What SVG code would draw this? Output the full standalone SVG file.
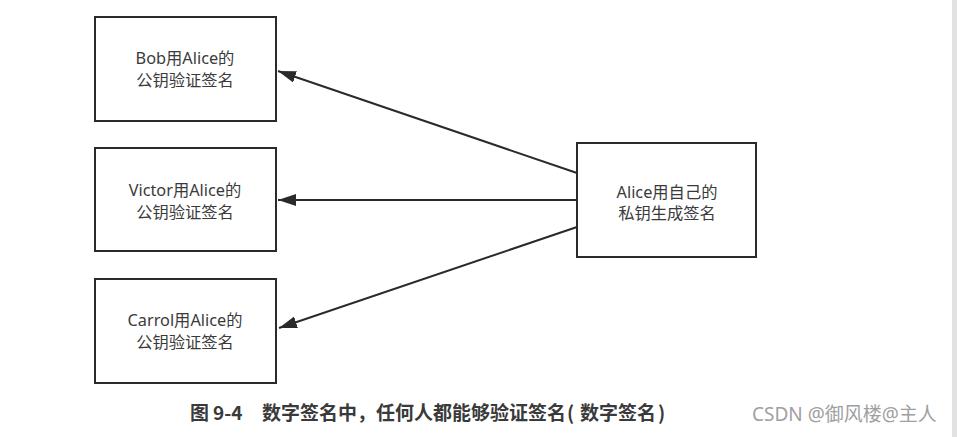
<svg xmlns="http://www.w3.org/2000/svg" width="957" height="437" viewBox="0 0 957 437">
<style>
.box{fill:#fff;stroke:#2a2a2a;stroke-width:2}
.t{font-family:"Noto Sans","Noto Sans CJK SC",sans-serif;font-size:16.3px;fill:#3a3a3a;text-anchor:middle}
.edge{stroke:#2a2a2a;stroke-width:2;fill:none;marker-end:url(#ah)}
.cap{font-family:"Noto Sans CJK SC",sans-serif;font-size:19px;font-weight:bold;fill:#3a3a3a}
.wm{font-family:"Noto Sans","Noto Sans CJK SC",sans-serif;font-size:19px;fill:#a0a0a0}
</style>
<defs>
<marker id="ah" markerWidth="20" markerHeight="14" refX="18" refY="6" orient="auto" markerUnits="userSpaceOnUse">
<path d="M0,0 L18,6 L0,12 Z" fill="#2a2a2a"/>
</marker>
</defs>
<rect width="957" height="437" fill="#fff"/>
<rect x="952" y="0" width="5" height="437" fill="#e2e2e2"/>
<g id="connectors">
<line class="edge" x1="577" y1="173" x2="278" y2="71"/>
<line class="edge" x1="577" y1="200" x2="278" y2="200"/>
<line class="edge" x1="577" y1="227" x2="279" y2="328"/>
</g>
<g id="bob">
<rect class="box" x="95" y="17" width="181" height="104"/>
<text class="t" x="185" y="64">Bob用Alice的</text>
<text class="t" x="185" y="86">公钥验证签名</text>
</g>
<g id="victor">
<rect class="box" x="95" y="148" width="181" height="103"/>
<text class="t" x="185" y="196">Victor用Alice的</text>
<text class="t" x="185" y="218">公钥验证签名</text>
</g>
<g id="carroll">
<rect class="box" x="95" y="279" width="181" height="104"/>
<text class="t" x="185" y="326">Carrol用Alice的</text>
<text class="t" x="185" y="348">公钥验证签名</text>
</g>
<g id="alice">
<rect class="box" x="577" y="143" width="179" height="114"/>
<text class="t" x="667" y="198">Alice用自己的</text>
<text class="t" x="667" y="219">私钥生成签名</text>
</g>
<text class="cap" y="420"><tspan x="190">图</tspan><tspan x="213">9-4</tspan><tspan x="262">数字签名中，任何人都能够验证签名</tspan><tspan x="567">(</tspan><tspan x="580">数字签名</tspan><tspan x="658">)</tspan></text>
<text class="wm" x="752" y="421">CSDN @御风楼@主人</text>
</svg>
